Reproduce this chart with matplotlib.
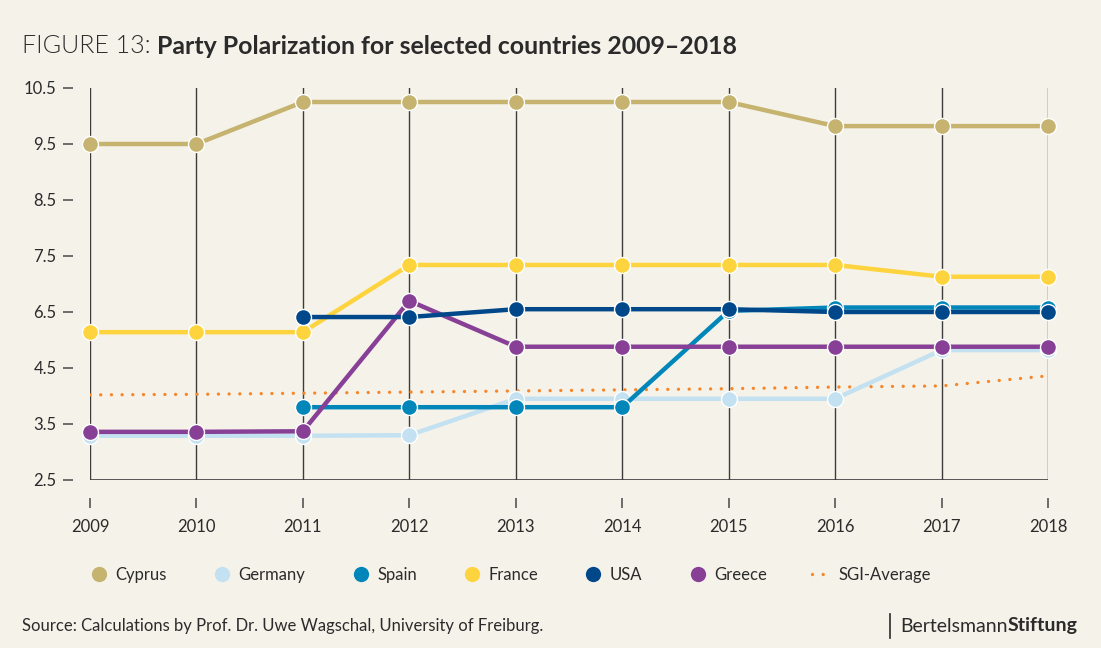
import numpy as np
import matplotlib
matplotlib.use("Agg")
import matplotlib.pyplot as plt
from matplotlib.lines import Line2D

plt.rcParams['font.family'] = ['Lato', 'DejaVu Sans']

# data
years = [2009, 2010, 2011, 2012, 2013, 2014, 2015, 2016, 2017, 2018]
cyprus = [9.5, 9.5, 10.25, 10.25, 10.25, 10.25, 10.25, 9.82, 9.82, 9.82]
germany = [4.29, 4.29, 4.29, 4.30, 4.95, 4.95, 4.95, 4.95, 5.82, 5.82]
spain = [np.nan, np.nan, 4.80, 4.80, 4.80, 4.80, 6.52, 6.58, 6.58, 6.58]
france = [6.14, 6.14, 6.14, 7.34, 7.34, 7.34, 7.34, 7.34, 7.13, 7.13]
usa = [np.nan, np.nan, 6.41, 6.41, 6.55, 6.55, 6.55, 6.50, 6.50, 6.50]
greece = [4.36, 4.36, 4.37, 6.70, 5.88, 5.88, 5.88, 5.88, 5.88, 5.88]
sgi_avg = [5.02, 5.03, 5.05, 5.07, 5.09, 5.11, 5.13, 5.16, 5.18, 5.36]

# the reference labels its axis like this (5.5 is skipped)
ytick_values = [3.5, 4.5, 5.5, 6.5, 7.5, 8.5, 9.5, 10.5]
ytick_labels = ['2.5', '3.5', '4.5', '6.5', '7.5', '8.5', '9.5', '10.5']

series = [
    ("Cyprus", cyprus, "#C5B36F"),
    ("Germany", germany, "#C3E1F0"),
    ("Spain", spain, "#0086B9"),
    ("France", france, "#FDD43E"),
    ("Greece", greece, "#874096"),
    ("USA", usa, "#00488A"),
]
legend_order = ["Cyprus", "Germany", "Spain", "France", "USA", "Greece"]

bg = "#F5F2EA"
text_col = "#2B2B2B"

fig = plt.figure(figsize=(11.01, 6.48), dpi=100, facecolor=bg)
ax = fig.add_axes([90 / 1101, 1 - 480 / 648, (1048 - 90) / 1101, (480 - 88) / 648])
ax.set_facecolor(bg)

ax.plot(years, sgi_avg, color="#F5872A", lw=2.4, linestyle=(0, (0.01, 3.2)),
        dash_capstyle="round", zorder=2)

handles = {}
for name, vals, col in series:
    ax.plot(years, vals, color=col, lw=3.2, marker="o", markersize=11.5,
            markeredgecolor="white", markeredgewidth=1.0, zorder=3, clip_on=False)
    handles[name] = Line2D([], [], color=col, marker="o", linestyle="none",
                           markersize=11, markeredgewidth=0)

ax.set_xlim(2009, 2018)
ax.set_ylim(3.5, 10.5)
ax.set_xticks(years)
ax.set_xticklabels([str(y) for y in years])
ax.set_yticks(ytick_values)
ax.set_yticklabels(ytick_labels)

ax.grid(axis="x", color="#3C3C3C", lw=1.0)
ax.set_axisbelow(True)
ax.axhline(3.5, color="#3C3C3C", lw=1.2, zorder=1)

for s in ["top", "right", "left", "bottom"]:
    ax.spines[s].set_visible(False)
ax.spines["left"].set_position(("outward", 12))
ax.spines["bottom"].set_position(("outward", 13))
ax.tick_params(axis="y", length=7, width=1.2, color="#555555", pad=5,
               labelsize=12, labelcolor=text_col)
ax.tick_params(axis="x", length=7, width=1.2, color="#555555", pad=8,
               labelsize=12, labelcolor=text_col)

leg_handles = [handles[n] for n in legend_order]
leg_handles.append(Line2D([], [], color="#F5872A", lw=2.4, linestyle=(0, (0.01, 3.2)),
                          dash_capstyle="round"))
leg = fig.legend(leg_handles, legend_order + ["SGI-Average"], loc="center left",
                 bbox_to_anchor=(74 / 1101, 1 - 575 / 648), ncol=7, frameon=False,
                 fontsize=12, handlelength=1.2, handletextpad=0.4, columnspacing=2.7)
for t in leg.get_texts():
    t.set_color(text_col)

# title in two weights
t1 = fig.text(22 / 1101, 1 - 46 / 648, "FIGURE 13:", fontsize=18, fontweight=300,
              color=text_col, va="center", ha="left")
ax.annotate(" Party Polarization for selected countries 2009\u20132018", xy=(1, 0),
            xycoords=t1, va="bottom", ha="left", fontsize=17.9, fontweight="bold",
            color=text_col, annotation_clip=False)

fig.text(22 / 1101, 1 - 626 / 648,
         "Source: Calculations by Prof. Dr. Uwe Wagschal, University of Freiburg.",
         fontsize=12, color=text_col, va="center", ha="left")

fig.add_artist(Line2D([890 / 1101, 890 / 1101], [1 - 614 / 648, 1 - 638 / 648],
                      color=text_col, lw=1.2))
b1 = fig.text(900 / 1101, 1 - 626 / 648, "Bertelsmann", fontsize=14,
              color=text_col, va="center", ha="left")
ax.annotate("Stiftung", xy=(1, 0), xycoords=b1, va="bottom", ha="left",
            fontsize=14, fontweight="bold", color=text_col, annotation_clip=False)

fig.savefig("out.png", dpi=100, facecolor=bg)
